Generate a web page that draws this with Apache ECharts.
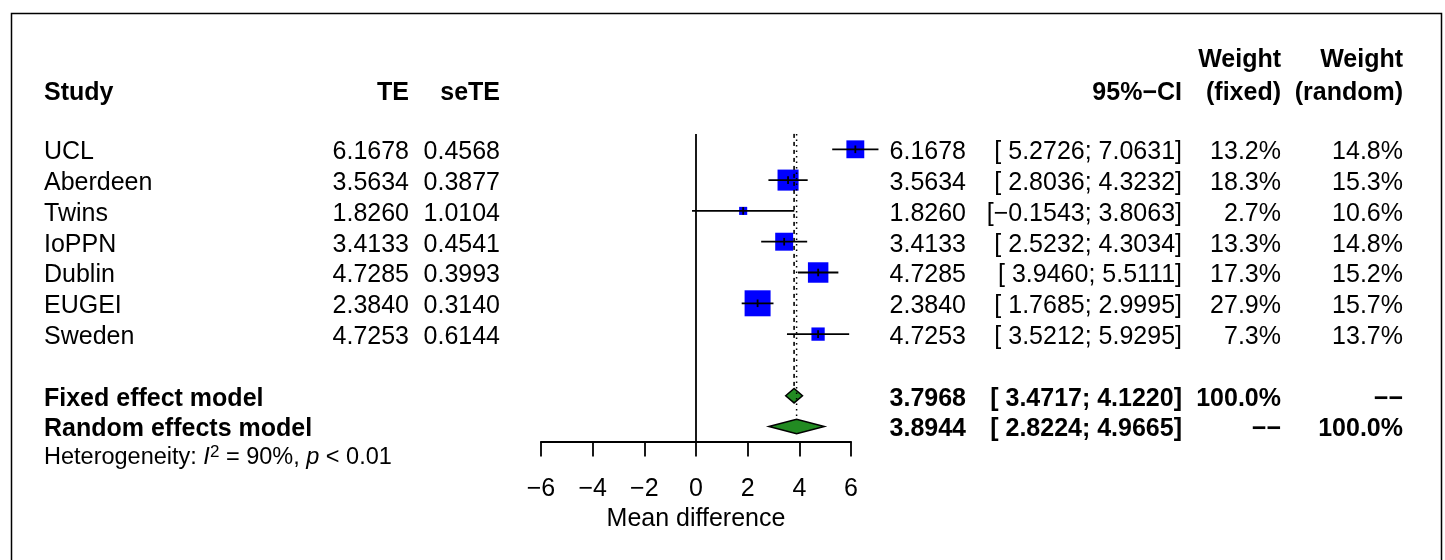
<!DOCTYPE html>
<html>
<head>
<meta charset="utf-8">
<script src="https://cdn.jsdelivr.net/npm/echarts@6/dist/echarts.min.js"></script>
<style>
html,body{margin:0;padding:0;background:#fff;}
#chart{width:1445px;height:560px;}
</style>
</head>
<body>
<div id="chart"></div>
<script>
// ---- data ----
const studies = ['UCL', 'Aberdeen', 'Twins', 'IoPPN', 'Dublin', 'EUGEI', 'Sweden'];
const te = [6.1678, 3.5634, 1.8260, 3.4133, 4.7285, 2.3840, 4.7253];
const seTE = [0.4568, 0.3877, 1.0104, 0.4541, 0.3993, 0.3140, 0.6144];
const ciLower = [5.2726, 2.8036, -0.1543, 2.5232, 3.9460, 1.7685, 3.5212];
const ciUpper = [7.0631, 4.3232, 3.8063, 4.3034, 5.5111, 2.9995, 5.9295];
const weightFixed = [13.2, 18.3, 2.7, 13.3, 17.3, 27.9, 7.3];
const weightRandom = [14.8, 15.3, 10.6, 14.8, 15.2, 15.7, 13.7];

const summaryLabels = ['Fixed effect model', 'Random effects model'];
const summaryTE = [3.7968, 3.8944];
const summaryLower = [3.4717, 2.8224];
const summaryUpper = [4.1220, 4.9665];
const summaryWeightFixed = ['100.0%', '\u2212\u2212'];
const summaryWeightRandom = ['\u2212\u2212', '100.0%'];

const xTicks = [-6, -4, -2, 0, 2, 4, 6];
const heterogeneity = { I2: '90%', p: '< 0.01' };

// ---- layout (styles / positions) ----
const FONT = '"Liberation Sans", Arial, Helvetica, sans-serif';
const FS = 25, SX = 1.0, YOFF = 3;
const col = { study: 44, te: 409, se: 500, est: 966, ci: 1182, wf: 1281, wr: 1403 };
const summaryRow0 = studies.length + 1; // rows 8 and 9
const hetRow = summaryRow0 + 1.92;
const diamondHalf = 7.2;

function num(v) { return v < 0 ? '\u2212' + Math.abs(v).toFixed(4) : v.toFixed(4); }
function ciText(lo, hi) {
  return '[' + (lo < 0 ? num(lo) : ' ' + num(lo)) + '; ' + num(hi) + ']';
}

// text items
const texts = [];
function T(x, row, text, align, bold, extra) {
  texts.push(Object.assign({ x, row, text, align, bold }, extra || {}));
}
T(col.study, -1.92, 'Study', 'left', true);
T(col.te, -1.92, 'TE', 'right', true);
T(col.se, -1.92, 'seTE', 'right', true);
T(col.ci, -1.92, '95%\u2212CI', 'right', true);
T(col.wf, -3.0, 'Weight', 'right', true);
T(col.wf, -1.92, '(fixed)', 'right', true);
T(col.wr, -3.0, 'Weight', 'right', true);
T(col.wr, -1.92, '(random)', 'right', true);
studies.forEach((s, i) => {
  T(col.study, i, s, 'left', false);
  T(col.te, i, te[i].toFixed(4), 'right', false);
  T(col.se, i, seTE[i].toFixed(4), 'right', false);
  T(col.est, i, num(te[i]), 'right', false);
  T(col.ci, i, ciText(ciLower[i], ciUpper[i]), 'right', false);
  T(col.wf, i, weightFixed[i].toFixed(1) + '%', 'right', false);
  T(col.wr, i, weightRandom[i].toFixed(1) + '%', 'right', false);
});
summaryLabels.forEach((s, k) => {
  const r = summaryRow0 + k;
  T(col.study, r, s, 'left', true);
  T(col.est, r, num(summaryTE[k]), 'right', true);
  T(col.ci, r, ciText(summaryLower[k], summaryUpper[k]), 'right', true);
  T(col.wf, r, summaryWeightFixed[k], 'right', true);
  T(col.wr, r, summaryWeightRandom[k], 'right', true);
});
T(col.study, hetRow,
  '{n|Heterogeneity: }{i|I}{sup|2}{n| = ' + heterogeneity.I2 + ', }{i|p}{n| ' + heterogeneity.p + '}',
  'left', false, { rich: true });

const chart = echarts.init(document.getElementById('chart'), null, { renderer: 'canvas' });

const rowPx = 30.8, row0Px = 149.3;
const forestTop = row0Px - 0.5 * rowPx;
const forestAxisRow = 9.49;

const option = {
  animation: false,
  backgroundColor: '#ffffff',
  graphic: [{
    type: 'rect', left: 9, top: 11,
    shape: { width: 1430, height: 620 },
    style: { fill: 'none', stroke: '#000', lineWidth: 1.5 },
    silent: true
  }],
  grid: [
    { left: 541, right: 1445 - 851, top: forestTop, height: (forestAxisRow + 0.5) * rowPx },
    { left: 0, right: 0, top: row0Px - 4 * rowPx, height: 17 * rowPx }
  ],
  xAxis: [
    {
      gridIndex: 0, type: 'value', min: xTicks[0], max: xTicks[xTicks.length - 1], interval: 2,
      axisLine: { show: true, onZero: false, lineStyle: { color: '#000', width: 1.8 } },
      axisTick: { show: true, length: 15, lineStyle: { color: '#000', width: 1.8 } },
      axisLabel: {
        color: '#000', fontSize: 25, fontFamily: FONT, margin: 35,
        formatter: v => (v < 0 ? '\u2212' + Math.abs(v) : String(v))
      },
      splitLine: { show: false },
      name: 'Mean difference', nameLocation: 'middle', nameGap: 65,
      nameTextStyle: { color: '#000', fontSize: 25, fontFamily: FONT }
    },
    { gridIndex: 1, type: 'value', min: 0, max: 1445, show: false }
  ],
  yAxis: [
    { gridIndex: 0, type: 'value', min: -0.5, max: forestAxisRow, inverse: true, show: false },
    { gridIndex: 1, type: 'value', min: -4, max: 13, inverse: true, show: false }
  ],
  series: [
    // zero reference line
    {
      type: 'line', xAxisIndex: 0, yAxisIndex: 0, symbol: 'none', silent: true,
      data: [[0, -0.5], [0, forestAxisRow]],
      lineStyle: { color: '#000', width: 1.8 }
    },
    // fixed effect (dashed) line
    {
      type: 'line', xAxisIndex: 0, yAxisIndex: 0, symbol: 'none', silent: true,
      data: [[summaryTE[0], -0.5], [summaryTE[0], summaryRow0 - diamondHalf / rowPx]],
      lineStyle: { color: '#000', width: 1.6, type: [4, 4] }
    },
    // random effects (dotted) line
    {
      type: 'line', xAxisIndex: 0, yAxisIndex: 0, symbol: 'none', silent: true,
      data: [[summaryTE[1], -0.5], [summaryTE[1], summaryRow0 + 1 - diamondHalf / rowPx]],
      lineStyle: { color: '#000', width: 1.5, type: [1.5, 4] }
    },
    // study squares + CI
    {
      type: 'custom', xAxisIndex: 0, yAxisIndex: 0, clip: false, silent: true,
      data: studies.map((s, i) => [te[i], i, ciLower[i], ciUpper[i], weightFixed[i]]),
      renderItem: function (params, api) {
        const row = api.value(1);
        const c = api.coord([api.value(0), row]);
        const lo = api.coord([api.value(2), row]);
        const hi = api.coord([api.value(3), row]);
        const s = 4.92 * Math.sqrt(api.value(4));
        return {
          type: 'group', children: [
            { type: 'rect', shape: { x: c[0] - s / 2, y: c[1] - s / 2, width: s, height: s }, style: { fill: '#0000ff' } },
            { type: 'line', shape: { x1: lo[0], y1: c[1], x2: hi[0], y2: c[1] }, style: { stroke: '#000', lineWidth: 1.8 } },
            { type: 'line', shape: { x1: c[0], y1: c[1] - 3.8, x2: c[0], y2: c[1] + 3.8 }, style: { stroke: '#000', lineWidth: 1.8 } }
          ]
        };
      }
    },
    // summary diamonds
    {
      type: 'custom', xAxisIndex: 0, yAxisIndex: 0, clip: false, silent: true,
      data: summaryTE.map((v, k) => [v, summaryRow0 + k, summaryLower[k], summaryUpper[k]]),
      renderItem: function (params, api) {
        const row = api.value(1);
        const c = api.coord([api.value(0), row]);
        const lo = api.coord([api.value(2), row]);
        const hi = api.coord([api.value(3), row]);
        return {
          type: 'polygon',
          shape: { points: [[lo[0], c[1]], [c[0], c[1] - diamondHalf], [hi[0], c[1]], [c[0], c[1] + diamondHalf]] },
          style: { fill: '#228b22', stroke: '#000', lineWidth: 1.5 }
        };
      }
    },
    // table text
    {
      type: 'custom', xAxisIndex: 1, yAxisIndex: 1, clip: false, silent: true,
      data: texts.map(t => [t.x, t.row]),
      renderItem: function (params, api) {
        const t = texts[params.dataIndex];
        const p = api.coord([api.value(0), api.value(1)]);
        const style = {
          text: t.text, textAlign: t.align, textVerticalAlign: 'middle', verticalAlign: 'middle',
          fill: '#000', fontFamily: FONT, fontSize: FS, fontWeight: t.bold ? 'bold' : 'normal'
        };
        if (t.rich) {
          const hs = 23.5;
          style.fontSize = hs;
          style.rich = {
            n: { fontSize: hs, fontFamily: FONT, fill: '#000', color: '#000' },
            i: { fontSize: hs, fontFamily: FONT, fontStyle: 'italic', fill: '#000', color: '#000' },
            sup: { fontSize: 17, fontFamily: FONT, fill: '#000', color: '#000', verticalAlign: 'top', padding: [0, 0, 12, 0] }
          };
        }
        return { type: 'text', x: p[0], y: p[1] + YOFF, scaleX: SX, scaleY: 1, style: style };
      }
    }
  ]
};
chart.setOption(option);
</script>
</body>
</html>
